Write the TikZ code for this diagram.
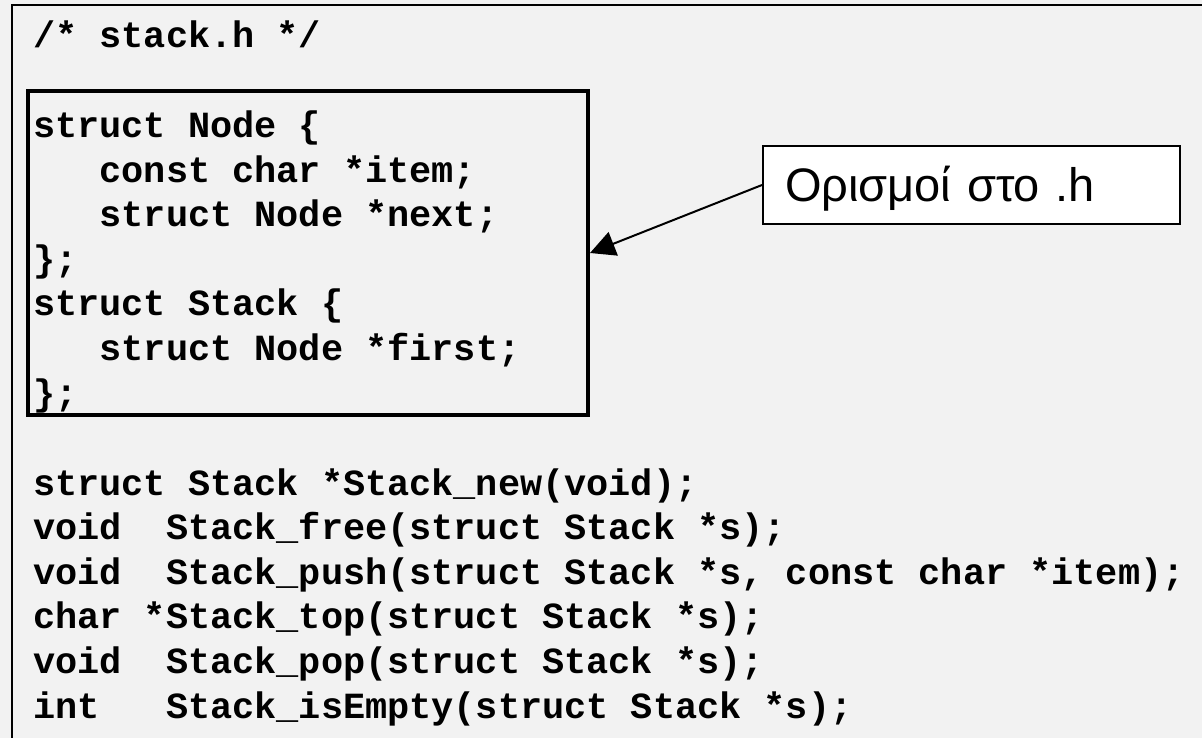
\documentclass[tikz,border=0pt]{standalone}
\usepackage{fontspec}
\newfontfamily\codefont{Liberation Mono}
\newfontfamily\notefont{Liberation Sans}
\usetikzlibrary{arrows.meta}
\definecolor{pagegray}{HTML}{F2F2F2}

\begin{document}
\begin{tikzpicture}[x=1pt, y=-1pt, >={Triangle[length=25pt,width=25pt]},
 code/.style={font=\codefont\bfseries\fontsize{36.9}{44.6}\selectfont,
  inner sep=0pt, anchor=base west, align=left},
 note/.style={draw, line width=2pt, fill=white, anchor=north west,
  font=\notefont\fontsize{47}{56}\selectfont, text width=373pt,
  inner xsep=22pt, inner ysep=22pt, text height=34pt, text depth=0pt,
  align=left}]
 \useasboundingbox[fill=pagegray] (0,0) rectangle (1202,738);
 \draw[line width=2.5pt] (12,5) rectangle (1230,760);
 % multi-line nodes sit on the baseline of their last line
 \node[code] (title) at (33,48) {/* stack.h */};
 \node[draw, line width=4pt, inner sep=0pt, minimum width=560pt,
  minimum height=324pt, anchor=north west] (defs) at (26,89) {};
 \node[code] (structs) at (33,405) {struct Node \{\\
  \ \ \ const char *item;\\
  \ \ \ struct Node *next;\\
  \};\\
  struct Stack \{\\
  \ \ \ struct Node *first;\\
  \};};
 \node[code] (decls) at (33,718) {struct Stack *Stack\_new(void);\\
  void\ \ Stack\_free(struct Stack *s);\\
  void\ \ Stack\_push(struct Stack *s, const char *item);\\
  char *Stack\_top(struct Stack *s);\\
  void\ \ Stack\_pop(struct Stack *s);\\
  int\ \ \ Stack\_isEmpty(struct Stack *s);};
 \node[note] (remark) at (762,145) {Ορισμοί στο .h};
 \draw[->, line width=2pt] (remark.west) -- (defs.east);
\end{tikzpicture}
\end{document}
